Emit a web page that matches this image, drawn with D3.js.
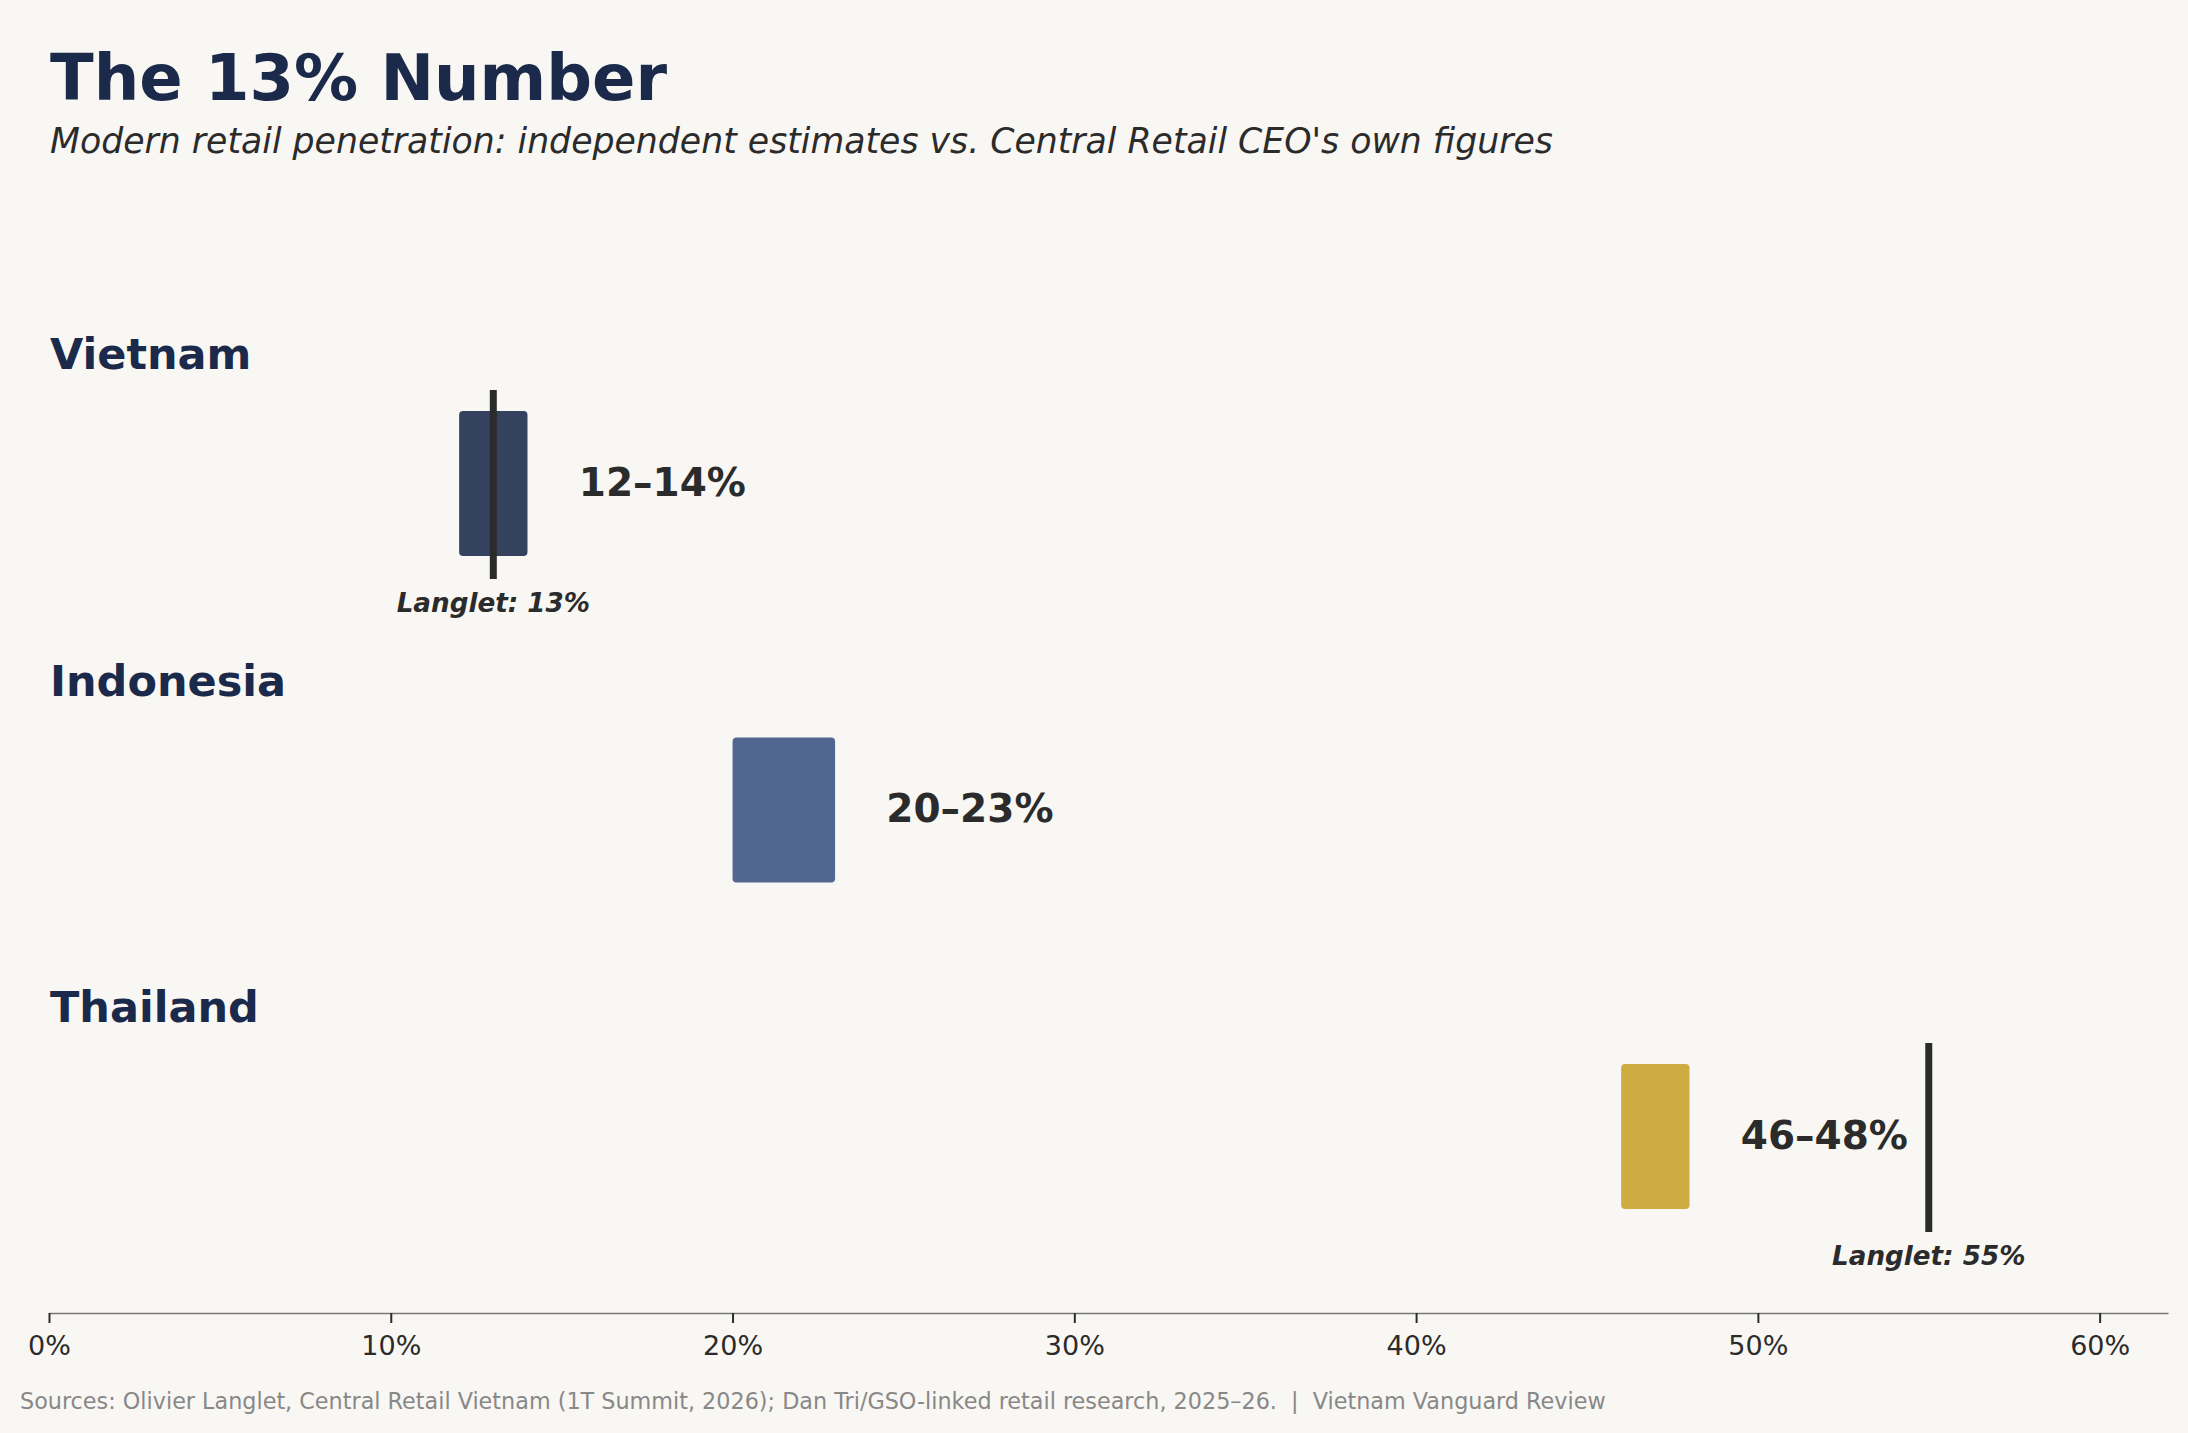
<!DOCTYPE html>
<html>
<head>
<meta charset="utf-8">
<script src="https://cdn.jsdelivr.net/npm/d3@7"></script>
<style>
  body { margin: 0; background: #f9f7f3; }
  svg { display: block; font-family: "DejaVu Sans", sans-serif; }
</style>
</head>
<body>
<div id="chart"></div>
<script>
// data
const countries = ["Vietnam", "Indonesia", "Thailand"];
const lowVals = [12, 20, 46];
const highVals = [14, 23, 48];
const rangeLabels = ["12–14%", "20–23%", "46–48%"];
const langletVals = [13, null, 55];
const tickVals = [0, 10, 20, 30, 40, 50, 60];

const width = 2188,
      height = 1433;

const svg = d3.select("#chart")
  .append("svg")
  .attr("width", width)
  .attr("height", height);

svg.append("rect")
  .attr("width", width)
  .attr("height", height)
  .attr("fill", "#f9f7f3");

// scales
const x = d3.scaleLinear()
  .domain([0, 62])
  .range([49, 2168]);

const y = d3.scalePoint()
  .domain(countries)
  .range([483.5, 1136.5]);

const color = d3.scaleOrdinal()
  .domain(countries)
  .range(["#35425f", "#506890", "#cfac41"]);

const barH = 145;

// title + subtitle
svg.append("text")
  .attr("x", 50)
  .attr("y", 100)
  .attr("font-size", 64)
  .attr("font-weight", "bold")
  .attr("fill", "#1b2a4a")
  .text("The 13% Number");

svg.append("text")
  .attr("x", 50)
  .attr("y", 153)
  .attr("font-size", 34.7)
  .attr("font-style", "italic")
  .attr("fill", "#2b2b2b")
  .text("Modern retail penetration: independent estimates vs. Central Retail CEO's own figures");

const rows = countries.map((c, i) => ({
  country: c,
  low: lowVals[i],
  high: highVals[i],
  label: rangeLabels[i],
  langlet: langletVals[i]
}));

// country labels above each row
svg.selectAll(".country-label")
  .data(rows)
  .join("text")
  .attr("class", "country-label")
  .attr("x", 50)
  .attr("y", d => y(d.country) - 114.5)
  .attr("font-size", 43)
  .attr("font-weight", "bold")
  .attr("fill", "#1b2a4a")
  .text(d => d.country);

// range bars
svg.selectAll(".range-bar")
  .data(rows)
  .join("rect")
  .attr("class", "range-bar")
  .attr("x", d => x(d.low))
  .attr("y", d => y(d.country) - barH / 2)
  .attr("width", d => x(d.high) - x(d.low))
  .attr("height", barH)
  .attr("rx", 4)
  .attr("fill", d => color(d.country));

// range value labels
svg.selectAll(".range-label")
  .data(rows)
  .join("text")
  .attr("class", "range-label")
  .attr("x", d => x(d.high + 1.5))
  .attr("y", d => y(d.country) + 12)
  .attr("font-size", 39)
  .attr("font-weight", "bold")
  .attr("fill", "#2b2b2b")
  .text(d => d.label);

// Langlet's own figures
const lang = rows.filter(d => d.langlet !== null);

svg.selectAll(".langlet-line")
  .data(lang)
  .join("line")
  .attr("class", "langlet-line")
  .attr("x1", d => x(d.langlet))
  .attr("x2", d => x(d.langlet))
  .attr("y1", d => y(d.country) - 93.5)
  .attr("y2", d => y(d.country) + 95.5)
  .attr("stroke", "#2b2b2b")
  .attr("stroke-width", 7);

svg.selectAll(".langlet-label")
  .data(lang)
  .join("text")
  .attr("class", "langlet-label")
  .attr("x", d => x(d.langlet))
  .attr("y", d => y(d.country) + 128.5)
  .attr("text-anchor", "middle")
  .attr("font-size", 26.2)
  .attr("font-weight", "bold")
  .attr("font-style", "italic")
  .attr("fill", "#2b2b2b")
  .text(d => "Langlet: " + d.langlet + "%");

// x axis
const axisY = 1313;
const xAxis = d3.axisBottom(x)
  .tickValues(tickVals)
  .tickFormat(d => d + "%")
  .tickSize(10)
  .tickPadding(13)
  .tickSizeOuter(0);

const gx = svg.append("g")
  .attr("transform", `translate(0, ${axisY})`)
  .call(xAxis);

gx.select(".domain")
  .attr("stroke", "#777")
  .attr("stroke-width", 1.6);

gx.selectAll(".tick line")
  .attr("stroke", "#2b2b2b")
  .attr("stroke-width", 2);

gx.selectAll(".tick text")
  .attr("font-family", "DejaVu Sans, sans-serif")
  .attr("font-size", 27)
  .attr("fill", "#2b2b2b");

// footer
svg.append("text")
  .attr("x", 20)
  .attr("y", 1409)
  .attr("font-size", 22.3)
  .attr("fill", "#888")
  .attr("xml:space", "preserve")
  .style("white-space", "pre")
  .text("Sources: Olivier Langlet, Central Retail Vietnam (1T Summit, 2026); Dan Tri/GSO-linked retail research, 2025–26.  |  Vietnam Vanguard Review");
</script>
</body>
</html>
